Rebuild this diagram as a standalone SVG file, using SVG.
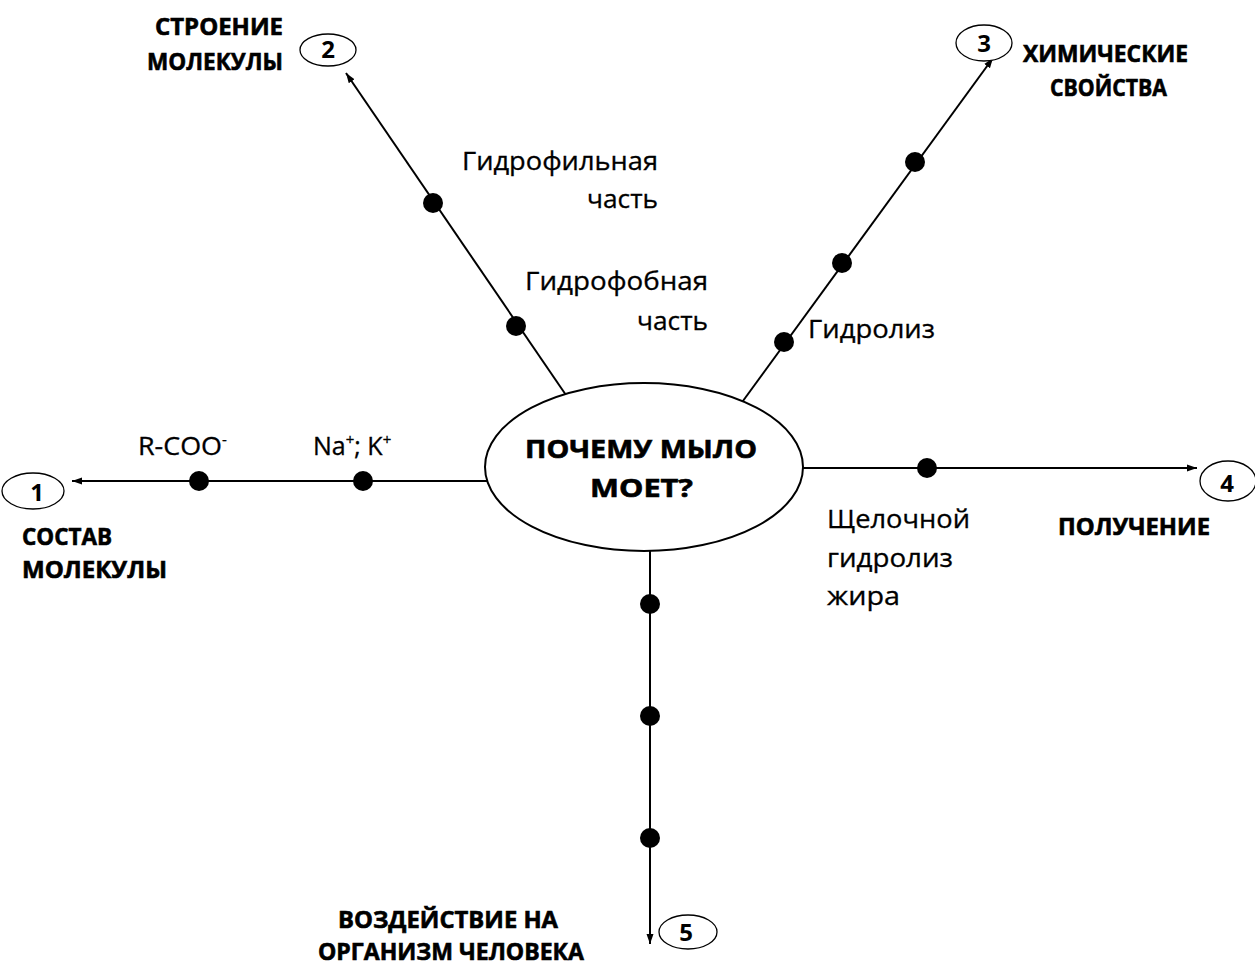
<svg xmlns="http://www.w3.org/2000/svg" width="1255" height="965" viewBox="0 0 1255 965">
<style>
.ln{stroke:#000;stroke-width:2;fill:none}
.dot{fill:#000}
.oval{fill:#fff;stroke:#000;stroke-width:1.3}
.t{font-family:"Open Sans","Liberation Sans",sans-serif;font-size:25px;fill:#000;stroke:#000;stroke-width:0.3}
.b{font-family:"Open Sans","Liberation Sans",sans-serif;font-size:23px;font-weight:bold;fill:#000;stroke:#000;stroke-width:0.6}
.n{font-family:"Open Sans","Liberation Sans",sans-serif;font-size:24px;font-weight:bold;fill:#000;text-anchor:middle}
.c{font-family:"Open Sans","Liberation Sans",sans-serif;font-size:25px;font-weight:bold;fill:#000;stroke:#000;stroke-width:0.6}
</style>
<defs>
<marker id="ah" markerWidth="12" markerHeight="10" refX="10" refY="5" orient="auto" markerUnits="userSpaceOnUse">
<path d="M0,1.5 L10,5 L0,8.5 Z" fill="#000"/>
</marker>
</defs>
<rect width="1255" height="965" fill="#fff"/>
<g id="connectors">
<line class="ln" x1="488" y1="481" x2="72" y2="481" marker-end="url(#ah)"/>
<line class="ln" x1="568" y1="398" x2="346" y2="73" marker-end="url(#ah)"/>
<line class="ln" x1="740" y1="405" x2="993" y2="58" marker-end="url(#ah)"/>
<line class="ln" x1="801" y1="468" x2="1197" y2="468" marker-end="url(#ah)"/>
<line class="ln" x1="650" y1="550" x2="650" y2="944" marker-end="url(#ah)"/>
<circle class="dot" cx="199" cy="481" r="10"/>
<circle class="dot" cx="363" cy="481" r="10"/>
<circle class="dot" cx="433" cy="203" r="10"/>
<circle class="dot" cx="516" cy="326" r="10"/>
<circle class="dot" cx="784" cy="342" r="10"/>
<circle class="dot" cx="842" cy="263" r="10"/>
<circle class="dot" cx="915" cy="162" r="10"/>
<circle class="dot" cx="927" cy="468" r="10"/>
<circle class="dot" cx="650" cy="604" r="10"/>
<circle class="dot" cx="650" cy="716" r="10"/>
<circle class="dot" cx="650" cy="838" r="10"/>
</g>
<g id="center">
<ellipse cx="644" cy="467" rx="159" ry="84" fill="#fff" stroke="#000" stroke-width="2"/>
<text class="c" x="525" y="458" textLength="232" lengthAdjust="spacingAndGlyphs">ПОЧЕМУ МЫЛО</text>
<text class="c" x="590" y="497" textLength="103" lengthAdjust="spacingAndGlyphs">МОЕТ?</text>
</g>
<g id="node1">
<ellipse class="oval" cx="33" cy="491" rx="31" ry="18"/>
<text class="n" x="37" y="501">1</text>
<text class="b" x="22" y="545" textLength="90" lengthAdjust="spacingAndGlyphs">СОСТАВ</text>
<text class="b" x="22" y="578" textLength="145" lengthAdjust="spacingAndGlyphs">МОЛЕКУЛЫ</text>
</g>
<g id="node2">
<ellipse class="oval" cx="328" cy="50" rx="28" ry="16"/>
<text class="n" x="328" y="58">2</text>
<text class="b" x="155" y="35" textLength="128" lengthAdjust="spacingAndGlyphs">СТРОЕНИЕ</text>
<text class="b" x="147" y="70" textLength="136" lengthAdjust="spacingAndGlyphs">МОЛЕКУЛЫ</text>
</g>
<g id="node3">
<ellipse class="oval" cx="984" cy="43" rx="28" ry="18"/>
<text class="n" x="984" y="52">3</text>
<text class="b" x="1023" y="62" textLength="165" lengthAdjust="spacingAndGlyphs">ХИМИЧЕСКИЕ</text>
<text class="b" x="1050" y="96" textLength="117" lengthAdjust="spacingAndGlyphs">СВОЙСТВА</text>
</g>
<g id="node4">
<ellipse class="oval" cx="1228" cy="481" rx="28" ry="20"/>
<text class="n" x="1227" y="492">4</text>
<text class="b" x="1058" y="535" textLength="152" lengthAdjust="spacingAndGlyphs">ПОЛУЧЕНИЕ</text>
</g>
<g id="node5">
<ellipse class="oval" cx="688" cy="932" rx="29" ry="17"/>
<text class="n" x="686" y="941">5</text>
<text class="b" x="338" y="928" textLength="220" lengthAdjust="spacingAndGlyphs">ВОЗДЕЙСТВИЕ НА</text>
<text class="b" x="318" y="960" textLength="266" lengthAdjust="spacingAndGlyphs">ОРГАНИЗМ ЧЕЛОВЕКА</text>
</g>
<g id="labels">
<text class="t" x="138" y="455"><tspan textLength="84" lengthAdjust="spacingAndGlyphs">R-COO</tspan><tspan font-size="15" dy="-10">-</tspan></text>
<text class="t" x="313" y="455">Na<tspan font-size="15" dy="-10">+</tspan><tspan dy="10">; K</tspan><tspan font-size="15" dy="-10">+</tspan></text>
<text class="t" x="462" y="170" textLength="196" lengthAdjust="spacingAndGlyphs">Гидрофильная</text>
<text class="t" x="587" y="208" textLength="71" lengthAdjust="spacingAndGlyphs">часть</text>
<text class="t" x="525" y="290" textLength="183" lengthAdjust="spacingAndGlyphs">Гидрофобная</text>
<text class="t" x="637" y="330" textLength="71" lengthAdjust="spacingAndGlyphs">часть</text>
<text class="t" x="808" y="338" textLength="127" lengthAdjust="spacingAndGlyphs">Гидролиз</text>
<text class="t" x="827" y="528" textLength="143" lengthAdjust="spacingAndGlyphs">Щелочной</text>
<text class="t" x="827" y="567" textLength="126" lengthAdjust="spacingAndGlyphs">гидролиз</text>
<text class="t" x="827" y="605" textLength="73" lengthAdjust="spacingAndGlyphs">жира</text>
</g>
</svg>
